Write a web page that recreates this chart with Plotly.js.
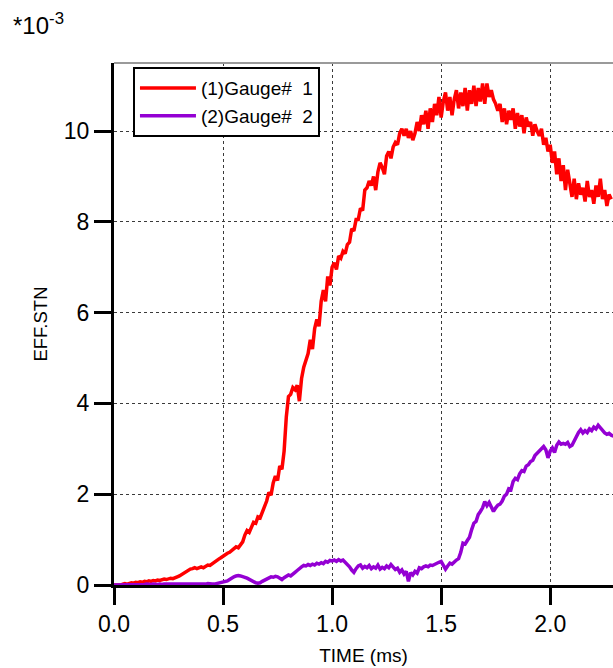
<!DOCTYPE html>
<html>
<head>
<meta charset="utf-8">
<script src="https://cdn.plot.ly/plotly-3.0.1.min.js"></script>
<style>
  html, body { margin: 0; padding: 0; background: #ffffff; }
  #chart { width: 613px; height: 668px; }
</style>
</head>
<body>
<div id="chart"></div>
<script>
// Sample clock of the recorder (ms)
const TIME_START_MS = 0;
const TIME_STEP_MS = 0.01;

const seriesNames = ['(1)Gauge#\u00a0 1', '(2)Gauge#\u00a0 2'];
const seriesColors = ['#ff0000', '#9400d3'];

// Effective strain, in units of 1e-3
const gauge1 = [
  0, 0, 0.01, 0, 0.02, 0.03, 0.02, 0.04, 0.05, 0.04,
  0.06, 0.05, 0.07, 0.06, 0.08, 0.07, 0.09, 0.08, 0.10, 0.09,
  0.11, 0.10, 0.12, 0.13, 0.12, 0.14, 0.15, 0.14, 0.17, 0.18,
  0.20, 0.23, 0.27, 0.30, 0.33, 0.35, 0.36, 0.38, 0.36, 0.39,
  0.40, 0.38, 0.42, 0.44, 0.43, 0.47, 0.50, 0.53, 0.57, 0.60,
  0.64, 0.66, 0.70, 0.72, 0.76, 0.80, 0.84, 0.82, 0.90, 0.95,
  1.10, 1.20, 1.16, 1.28, 1.38, 1.36, 1.50, 1.48, 1.60, 1.72,
  1.85, 2.04, 1.98, 2.25, 2.40, 2.30, 2.62, 2.55, 2.95, 3.70,
  4.15, 4.20, 4.35, 4.30, 4.40, 4.05, 4.55, 4.80, 4.95, 5.10,
  5.40, 5.20, 5.65, 5.85, 5.70, 6.25, 6.50, 6.25, 6.80, 6.60,
  7.00, 7.10, 6.95, 7.25, 7.20, 7.35, 7.30, 7.50, 7.55, 7.85,
  7.80, 8.05, 8.05, 8.30, 8.25, 8.70, 8.75, 8.90, 8.80, 9.00,
  8.70, 9.10, 9.30, 9.20, 9.05, 9.45, 9.55, 9.40, 9.65, 9.75,
  9.70, 9.95, 10.05, 9.90, 10.05, 9.85, 10.00, 9.80, 9.95, 10.20,
  10.00, 10.35, 10.15, 10.45, 10.05, 10.50, 10.20, 10.60, 10.35, 10.75,
  10.30, 10.65, 10.85, 10.45, 10.75, 10.35, 10.70, 10.90, 10.50, 10.85,
  10.55, 10.95, 10.45, 10.90, 10.60, 11.00, 10.55, 10.95, 10.65, 11.05,
  10.60, 11.05, 10.75, 10.90, 10.70, 10.60, 10.45, 10.60, 10.20, 10.50,
  10.15, 10.45, 10.25, 10.50, 10.05, 10.40, 10.10, 10.35, 9.95, 10.30,
  10.10, 10.20, 9.90, 10.15, 10.00, 9.90, 10.05, 9.70, 9.85, 9.55,
  9.70, 9.30, 9.55, 9.05, 9.40, 8.90, 9.25, 8.70, 9.15, 8.80,
  8.55, 8.95, 8.50, 8.85, 8.60, 8.75, 8.45, 8.90, 8.55, 8.70,
  8.40, 8.80, 8.55, 8.95, 8.50, 8.70, 8.35, 8.60, 8.50
];

const gauge2 = [
  0, 0, 0, 0.01, 0, 0.01, 0.01, 0, 0.01, 0.01,
  0.01, 0, 0.01, 0.01, 0.01, 0.02, 0.01, 0.01, 0.02, 0.01,
  0.01, 0.02, 0.01, 0.02, 0.02, 0.01, 0.02, 0.02, 0.01, 0.02,
  0.02, 0.01, 0.02, 0.02, 0.01, 0.02, 0.02, 0.01, 0.02, 0.02,
  0.01, 0.02, 0.02, 0.03, 0.02, 0.02, 0.02, 0.03, 0.04, 0.05,
  0.06, 0.07, 0.09, 0.12, 0.16, 0.18, 0.20, 0.21, 0.20, 0.19,
  0.17, 0.15, 0.12, 0.09, 0.07, 0.05, 0.04, 0.05, 0.08,
  0.11, 0.14, 0.16, 0.18, 0.17, 0.19, 0.18, 0.15, 0.12, 0.16,
  0.18, 0.22, 0.20, 0.25, 0.28, 0.32, 0.37, 0.40, 0.43, 0.42,
  0.45, 0.43, 0.46, 0.44, 0.48, 0.46, 0.49, 0.47, 0.52, 0.50,
  0.54, 0.53, 0.55, 0.52, 0.56, 0.53, 0.55, 0.50, 0.46, 0.40,
  0.33, 0.28, 0.36, 0.42,
  0.44, 0.37, 0.41, 0.38, 0.43,
  0.36, 0.40, 0.37, 0.44, 0.35, 0.39, 0.36, 0.42, 0.38, 0.45,
  0.40, 0.34, 0.37, 0.28, 0.33, 0.24, 0.30, 0.08, 0.27, 0.22,
  0.30, 0.26, 0.38, 0.36, 0.40, 0.42, 0.40, 0.44, 0.43, 0.46,
  0.48, 0.50, 0.52, 0.42, 0.35, 0.42, 0.48, 0.46, 0.52, 0.55,
  0.58, 0.72,
  0.92, 0.90, 0.98, 1.05, 1.22, 1.36, 1.40,
  1.55, 1.62, 1.70, 1.84, 1.75, 1.82, 1.72, 1.62, 1.70, 1.76,
  1.78, 1.85, 1.96, 2.00, 2.12, 2.10, 2.28, 2.35, 2.32, 2.45,
  2.52, 2.50, 2.62, 2.65, 2.72, 2.75, 2.85, 2.90, 2.96, 3.00,
  3.05, 2.98, 2.80, 2.95, 3.02, 2.92, 3.08, 3.15, 3.10, 3.12,
  3.10, 3.14, 3.05,
  3.08, 3.18, 3.30, 3.36, 3.42, 3.35,
  3.40, 3.36, 3.44, 3.40, 3.48, 3.44, 3.52, 3.46, 3.38, 3.35,
  3.32, 3.34, 3.30, 3.28
];

const xTickVals = [0, 0.5, 1.0, 1.5, 2.0];
const yTickVals = [0, 2, 4, 6, 8, 10];
const xRange = [0, 2.288];
const yRange = [0, 11.5];

const sampleTimes = n => Array.from({ length: n }, (_, i) => +(TIME_START_MS + i * TIME_STEP_MS).toFixed(4));

const FONT = 'Arial, "Liberation Sans", sans-serif';

const traces = [gauge1, gauge2].map((values, k) => ({
  type: 'scatter',
  mode: 'lines',
  x: sampleTimes(values.length),
  y: values,
  name: seriesNames[k],
  line: { color: seriesColors[k], width: 3.5 },
  hoverinfo: 'skip'
}));

const axisCommon = {
  showline: true,
  linecolor: '#000000',
  linewidth: 3,
  ticks: 'outside',
  ticklen: 17,
  tickwidth: 3,
  tickcolor: '#000000',
  showgrid: true,
  gridcolor: '#3a3a3a',
  griddash: 'dot',
  gridwidth: 1,
  zeroline: false,
  layer: 'below traces',
  tickfont: { family: FONT, size: 23, color: '#000000' },
  fixedrange: true
};

const layout = {
  width: 613,
  height: 668,
  margin: { l: 114, r: 0, t: 63, b: 83 },
  paper_bgcolor: '#ffffff',
  plot_bgcolor: '#ffffff',
  font: { family: FONT, color: '#000000' },
  showlegend: true,
  legend: {
    x: 0.038, y: 0.992, xanchor: 'left', yanchor: 'top',
    bgcolor: '#ffffff',
    bordercolor: '#000000',
    borderwidth: 2,
    font: { family: FONT, size: 19, color: '#000000' },
    itemwidth: 56
  },
  xaxis: Object.assign({}, axisCommon, {
    range: xRange,
    tickvals: xTickVals,
    tickformat: '.1f',
    ticklabelstandoff: -1,
    title: { text: 'TIME (ms)', font: { family: FONT, size: 19 }, standoff: 14 }
  }),
  yaxis: Object.assign({}, axisCommon, {
    range: yRange,
    tickvals: yTickVals,
    tickformat: 'd',
    title: { text: 'EFF.STN', font: { family: FONT, size: 18.5 }, standoff: 12 }
  }),
  shapes: [{
    type: 'line', xref: 'paper', yref: 'paper',
    x0: 0, x1: 1, y0: 1, y1: 1,
    line: { color: '#9a9a9a', width: 2 }
  }],
  annotations: [{
    xref: 'paper', yref: 'paper',
    x: -0.206, y: 1.075, xanchor: 'left', yanchor: 'middle',
    text: '*10<sup>-3</sup>',
    showarrow: false,
    font: { family: FONT, size: 24, color: '#000000' }
  }]
};

Plotly.newPlot('chart', traces, layout, { displayModeBar: false, staticPlot: true });
</script>
</body>
</html>
